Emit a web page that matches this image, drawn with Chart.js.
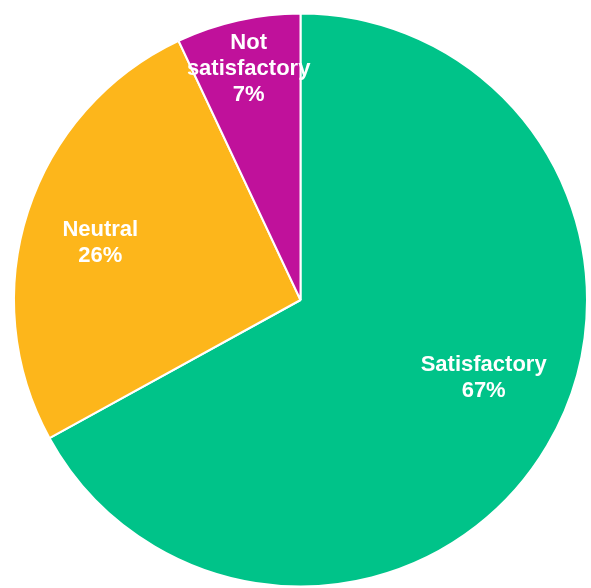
<!DOCTYPE html>
<html>
<head>
<meta charset="utf-8">
<script src="https://cdn.jsdelivr.net/npm/chart.js@4/dist/chart.umd.min.js"></script>
<style>
  html, body { margin: 0; padding: 0; background: #ffffff; }
  #wrap { width: 591px; height: 588px; position: relative; }
</style>
</head>
<body>
<div id="wrap"><canvas id="pieChart"></canvas></div>
<script>
// Data
const CATEGORIES = ["Satisfactory", "Neutral", "Not satisfactory"];
const SHARES = [67, 26, 7];
// multi-line label text as shown inside slices
const LABEL_LINES = [["Satisfactory"], ["Neutral"], ["Not", "satisfactory"]];

const COLORS = ["#00c389", "#fdb61b", "#c0119b"];

// Draws the white labels inside each slice (no datalabels plugin available)
const sliceLabels = {
  id: "sliceLabels",
  afterDatasetsDraw(chart, args, opts) {
    const ctx = chart.ctx;
    const meta = chart.getDatasetMeta(0);
    ctx.save();
    ctx.fillStyle = "#ffffff";
    ctx.font = "bold 22px 'Liberation Sans', Arial, sans-serif";
    ctx.textAlign = "center";
    ctx.textBaseline = "middle";
    meta.data.forEach((arc, i) => {
      const p = arc.getProps(["x", "y", "startAngle", "endAngle", "outerRadius"], true);
      const mid = (p.startAngle + p.endAngle) / 2;
      const r = p.outerRadius * opts.radius[i];
      const cx = p.x + Math.cos(mid) * r + opts.shift[i][0];
      const cy = p.y + Math.sin(mid) * r + opts.shift[i][1];
      const lines = LABEL_LINES[i].concat([SHARES[i] + "%"]);
      const lh = 26;
      const top = cy - (lines.length - 1) * lh / 2;
      lines.forEach((t, k) => ctx.fillText(t, cx, top + k * lh));
    });
    ctx.restore();
  },
};

new Chart(document.getElementById("pieChart"), {
  type: "pie",
  data: {
    labels: CATEGORIES,
    datasets: [{
      data: SHARES,
      backgroundColor: COLORS,
      borderColor: "#ffffff",
      borderWidth: 2,
      hoverOffset: 0,
    }],
  },
  options: {
    responsive: true,
    maintainAspectRatio: false,
    animation: false,
    events: [],
    layout: { padding: { top: 12, bottom: 0, left: 13, right: 3 } },
    plugins: {
      legend: { display: false },
      tooltip: { enabled: false },
      sliceLabels: {
        radius: [0.69, 0.72, 0.83],
        shift: [[13, -23], [-4, 7], [0, 1]],
      },
    },
  },
  plugins: [sliceLabels],
});
</script>
</body>
</html>
